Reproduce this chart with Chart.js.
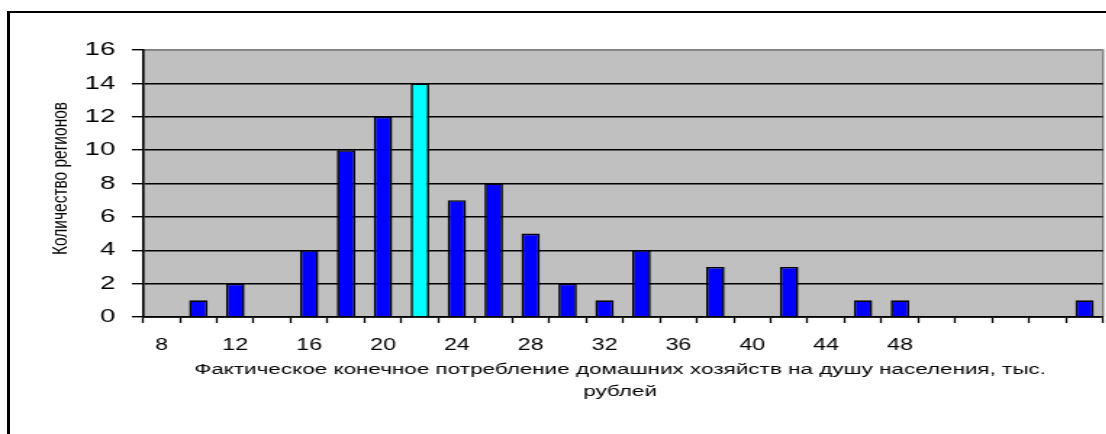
<!DOCTYPE html>
<html>
<head>
<meta charset="utf-8">
<script src="https://cdn.jsdelivr.net/npm/chart.js@4.4.0/dist/chart.umd.min.js"></script>
<style>
  html, body { margin: 0; padding: 0; background: #fff; overflow: hidden; }
  .frame {
    position: absolute; left: 7px; top: 11px; width: 1300px; height: 600px;
    border-left: 3px solid #000; border-top: 2px solid #000;
  }
  /* the reference is stretched sideways, so the chart is drawn narrow and scaled */
  .stretch {
    position: absolute; left: 0; top: 0; width: 763px; height: 434px;
    transform: scaleX(1.45); transform-origin: 0 0;
  }
</style>
</head>
<body>
<div class="frame"></div>
<div class="stretch"><canvas id="hist"></canvas></div>
<script>
// ===== Распределение регионов по потреблению =====
const categories = [8, 10, 12, 14, 16, 18, 20, 22, 24, 26, 28, 30, 32,
  34, 36, 38, 40, 42, 44, 46, 48, 50, 52, 54, 56, 58];
const tickLabels = ['8', '', '12', '', '16', '', '20', '', '24', '', '28', '', '32',
  '', '36', '', '40', '', '44', '', '48', '', '', '', '', ''];
const regionCounts = [0, 1, 2, 0, 4, 10, 12, 14, 7, 8, 5, 2, 1,
  4, 0, 3, 0, 3, 0, 1, 1, 0, 0, 0, 0, 1];
const highlightCategory = 22;
const yTicks = [0, 2, 4, 6, 8, 10, 12, 14, 16];

const yTitle = 'Количество регионов';
const xTitleLines = [
  'Фактическое конечное потребление домашних хозяйств на душу населения, тыс.',
  'рублей',
];

(() => {
  const canvas = document.getElementById('hist');
  if (!canvas || typeof Chart === 'undefined') return;

  const FONT = '"Liberation Sans", Arial, sans-serif';

  // серый фон области построения + серая рамка сверху/справа
  const plotBackground = {
    id: 'plotBackground',
    beforeDraw(chart) {
      const { ctx, chartArea: a } = chart;
      ctx.save();
      ctx.fillStyle = '#C0C0C0';
      ctx.fillRect(a.left, a.top, a.right - a.left, a.bottom - a.top);
      ctx.strokeStyle = '#808080';
      ctx.lineWidth = 1.5;
      ctx.beginPath();
      ctx.moveTo(a.left, a.top);
      ctx.lineTo(a.right, a.top);
      ctx.lineTo(a.right, a.bottom);
      ctx.stroke();
      ctx.restore();
    },
  };

  // подписи осей рисуем сами
  const axisTitles = {
    id: 'axisTitles',
    afterDraw(chart) {
      const { ctx, chartArea: a } = chart;
      ctx.save();
      ctx.fillStyle = '#000';
      ctx.textAlign = 'center';
      ctx.textBaseline = 'middle';

      ctx.font = '15.5px ' + FONT;
      const cx = (a.left + a.right) / 2 - 2;
      ctx.fillText(xTitleLines[0], cx, a.bottom + 53);
      ctx.fillText(xTitleLines[1], cx, a.bottom + 75);

      ctx.font = '15.5px ' + FONT;
      ctx.translate(41.5, (a.top + a.bottom) / 2 - 5);
      ctx.rotate(-Math.PI / 2);
      ctx.fillText(yTitle, 0, 0);
      ctx.restore();
    },
  };

  new Chart(canvas.getContext('2d'), {
    type: 'bar',
    data: {
      labels: categories,
      datasets: [{
        data: regionCounts,
        backgroundColor: categories.map(c => c === highlightCategory ? '#00FFFF' : '#0000FF'),
        borderColor: '#000',
        borderWidth: 1.6,
        borderSkipped: 'bottom',
        barPercentage: 0.5,
        categoryPercentage: 1.0,
      }],
    },
    options: {
      responsive: true,
      maintainAspectRatio: false,
      animation: false,
      layout: { padding: { top: 50, right: 2.3, left: 0, bottom: 0 } },
      scales: {
        x: {
          grid: {
            drawOnChartArea: false,
            drawTicks: true,
            tickLength: 6,
            tickColor: '#000',
            tickWidth: 1.3,
          },
          border: { color: '#000', width: 1.8 },
          ticks: {
            autoSkip: false,
            maxRotation: 0,
            padding: 13,
            color: '#000',
            font: { family: FONT, size: 16 },
            callback: (v, i) => tickLabels[i],
          },
          afterFit: (s) => { s.height = 117; },
        },
        y: {
          min: 0,
          max: 16,
          afterBuildTicks: (s) => { s.ticks = yTicks.map(v => ({ value: v })); },
          grid: {
            color: (c) => (c.tick && c.tick.value === 16 ? '#808080' : '#000'),
            lineWidth: 1.4,
            tickLength: 7.6,
            tickColor: '#000',
          },
          border: { color: '#000', width: 1.6 },
          ticks: {
            padding: 11.5,
            color: '#000',
            font: { family: FONT, size: 19 },
          },
          afterFit: (s) => { s.width = 98.6; },
        },
      },
      plugins: {
        legend: { display: false },
        tooltip: { enabled: false },
      },
    },
    plugins: [plotBackground, axisTitles],
  });
})();
</script>
</body>
</html>
